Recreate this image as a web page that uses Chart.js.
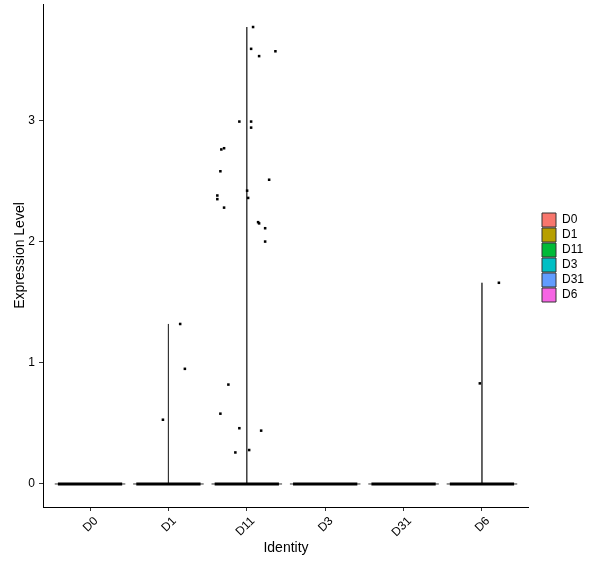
<!DOCTYPE html>
<html>
<head>
<meta charset="utf-8">
<script src="https://cdn.jsdelivr.net/npm/chart.js@4.4.1/dist/chart.umd.min.js"></script>
<style>
  body { margin: 0; background: #fff; }
  #wrap { width: 600px; height: 568px; }
</style>
</head>
<body>
<div id="wrap"><canvas id="vln" width="600" height="568"></canvas></div>
<script>
// categories and violin fill colours (ggplot hue palette)
const categories = ['D0', 'D1', 'D11', 'D3', 'D31', 'D6'];
const fillColors = ['#F8766D', '#B79F00', '#00BA38', '#00BFC4', '#619CFF', '#F564E3'];
const yTicks = [0, 1, 2, 3];

// non-zero expression values per identity (all other cells are 0)
const valsD0 = [];
const valsD1 = [1.32, 0.95, 0.53];
const valsD11 = [3.77, 3.59, 3.57, 3.53, 2.99, 2.99, 2.94, 2.77, 2.76, 2.58, 2.51, 2.42,
                 2.38, 2.35, 2.36, 2.28, 2.16, 2.15, 2.11, 2.00, 0.82, 0.58, 0.46, 0.44, 0.26, 0.28];
const valsD3 = [];
const valsD31 = [];
const valsD6 = [1.66, 0.83];

// horizontal jitter of those points
const jitD0 = [];
const jitD1 = [0.15, 0.21, -0.07];
const jitD11 = [0.08, 0.055, 0.365, 0.157, -0.095, 0.055, 0.055, -0.29, -0.325, -0.337, 0.285, 0.004,
                -0.376, -0.376, 0.017, -0.29, 0.144, 0.157, 0.234, 0.234, -0.235, -0.337, -0.095, 0.183, -0.146, 0.03];
const jitD3 = [];
const jitD31 = [];
const jitD6 = [0.216, -0.027];

const allVals = [valsD0, valsD1, valsD11, valsD3, valsD31, valsD6];
const allJit = [jitD0, jitD1, jitD11, jitD3, jitD31, jitD6];

const VIOLIN_HALF = 0.45;  // geom_violin width 0.9
const JITTER_HALF = 0.41;  // jitter band of the zero-valued cells

const datasets = [];

// violins: almost all density sits at 0, so each is a wide base and a thin spike to the max
categories.forEach((c, i) => {
  const x = i + 1;
  const top = allVals[i].length ? Math.max(...allVals[i]) : 0;
  datasets.push({
    type: 'line',
    label: c,
    data: [{x: x - VIOLIN_HALF, y: 0}, {x: x, y: 0}, {x: x, y: top}, {x: x, y: 0}, {x: x + VIOLIN_HALF, y: 0}],
    borderColor: '#333333',
    backgroundColor: fillColors[i],
    borderWidth: 1,
    pointRadius: 0,
    fill: false,
    tension: 0,
    order: 3
  });
});

// the many zero-valued cells overlap into a solid band
categories.forEach((c, i) => {
  const x = i + 1;
  datasets.push({
    type: 'line',
    label: c + ' zeros',
    data: [{x: x - JITTER_HALF, y: 0}, {x: x + JITTER_HALF, y: 0}],
    borderColor: '#000000',
    borderWidth: 3,
    pointRadius: 0,
    fill: false,
    order: 2
  });
});

// jittered non-zero cells
categories.forEach((c, i) => {
  const x = i + 1;
  datasets.push({
    type: 'scatter',
    label: c + ' cells',
    data: allVals[i].map((v, k) => ({x: x + allJit[i][k], y: v})),
    backgroundColor: '#000000',
    borderColor: '#000000',
    borderWidth: 0,
    pointStyle: 'rect',
    pointRadius: 1.8,
    order: 1
  });
});

// put the legend where ggplot puts it
const legendPlace = {
  id: 'legendPlace',
  afterLayout(chart) {
    const lg = chart.legend;
    if (!lg || !lg.columnSizes) return;
    const pad = lg.options.labels.padding;
    const colH = lg.columnSizes[0].height;
    const cur = (lg.top + pad + lg.bottom - colH) / 2;
    const dy = 213 - cur;
    lg.top += dy;
    lg.bottom += dy;
    const w = lg.width;
    lg.left = 542 - pad;
    lg.right = lg.left + w;
  }
};

const ctx = document.getElementById('vln').getContext('2d');
new Chart(ctx, {
  data: { datasets: datasets },
  plugins: [legendPlace],
  options: {
    responsive: false,
    animation: false,
    layout: { padding: { top: 3, right: 18, left: 0, bottom: 0 } },
    plugins: {
      tooltip: { enabled: false },
      legend: {
        position: 'right',
        labels: {
          filter: (item) => item.datasetIndex < categories.length,
          sort: (a, b) => a.datasetIndex - b.datasetIndex,
          boxWidth: 14,
          boxHeight: 14,
          padding: 1,
          color: '#000000',
          font: { family: 'Liberation Sans, Arial, sans-serif', size: 12 }
        }
      }
    },
    scales: {
      x: {
        type: 'linear',
        min: 0.4,
        max: 6.6,
        afterBuildTicks: (s) => { s.ticks = categories.map((c, i) => ({value: i + 1})); },
        afterFit: (s) => { s.height = 61; s.paddingLeft = 0; s.paddingRight = 0; },
        ticks: {
          autoSkip: false,
          minRotation: 45,
          maxRotation: 45,
          padding: 3,
          labelOffset: 6,
          color: '#000000',
          font: { family: 'Liberation Sans, Arial, sans-serif', size: 12 },
          callback: (v) => categories[v - 1]
        },
        grid: { display: true, drawOnChartArea: false, drawTicks: true, tickLength: 4, color: '#333333' },
        border: { display: true, color: '#000000', width: 1 },
        title: {
          display: true,
          text: 'Identity',
          color: '#000000',
          font: { family: 'Liberation Sans, Arial, sans-serif', size: 14 },
          padding: { top: 0, bottom: 11 }
        }
      },
      y: {
        type: 'linear',
        min: -0.19,
        max: 3.96,
        afterBuildTicks: (s) => { s.ticks = yTicks.map(v => ({value: v})); },
        afterFit: (s) => { s.width = 43; s.paddingTop = 0; s.paddingBottom = 0; },
        ticks: {
          padding: 4,
          color: '#000000',
          font: { family: 'Liberation Sans, Arial, sans-serif', size: 12 }
        },
        grid: { display: true, drawOnChartArea: false, drawTicks: true, tickLength: 4, color: '#333333' },
        border: { display: true, color: '#000000', width: 1 },
        title: {
          display: true,
          text: 'Expression Level',
          color: '#000000',
          font: { family: 'Liberation Sans, Arial, sans-serif', size: 14 },
          padding: { top: 11.5, bottom: 0 }
        }
      }
    }
  }
});
</script>
</body>
</html>
